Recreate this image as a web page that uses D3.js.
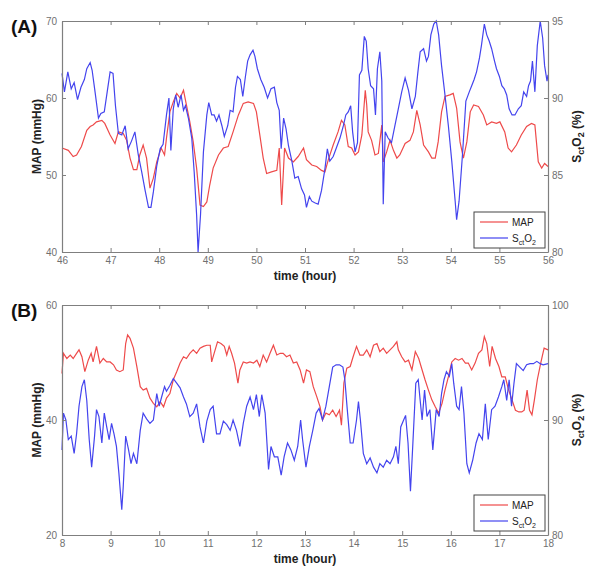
<!DOCTYPE html>
<html><head><meta charset="utf-8">
<script src="https://cdn.jsdelivr.net/npm/d3@7"></script>
<style>body{margin:0;background:#fff}svg{display:block}</style>
</head><body>
<svg id="c" width="602" height="581"></svg>
<script>
// ---------- Panel A data ----------
const mapA_t = [46.0,46.13,46.23,46.3,46.4,46.51,46.58,46.64,46.71,46.82,46.88,46.99,47.09,47.16,47.26,47.33,47.4,47.47,47.54,47.6,47.67,47.74,47.81,47.88,47.95,48.04,48.11,48.15,48.22,48.29,48.36,48.43,48.5,48.56,48.63,48.7,48.77,48.84,48.91,48.98,49.04,49.11,49.22,49.32,49.42,49.52,49.63,49.73,49.83,49.94,50.0,50.07,50.14,50.21,50.31,50.42,50.47,50.52,50.58,50.66,50.76,50.86,50.97,51.03,51.14,51.24,51.34,51.41,51.48,51.58,51.68,51.75,51.82,51.89,51.96,52.03,52.1,52.17,52.24,52.27,52.3,52.37,52.44,52.51,52.58,52.61,52.68,52.75,52.82,52.89,52.95,53.06,53.16,53.23,53.3,53.37,53.44,53.54,53.61,53.68,53.74,53.81,53.88,53.98,54.05,54.12,54.19,54.26,54.33,54.4,54.47,54.57,54.67,54.74,54.84,54.94,55.01,55.11,55.18,55.25,55.35,55.45,55.56,55.66,55.73,55.8,55.87,55.93,56.0];
const mapA_v = [53.5,53.2,52.4,52.6,53.7,55.8,56.3,56.5,56.9,57.1,56.7,55.2,54.1,55.6,55.4,54.5,52.2,50.7,50.7,52.6,53.9,52.2,48.3,49.6,51.7,53.5,52.6,54.8,58.2,59.5,60.6,60.0,61.0,59.1,56.9,54.3,50.9,46.1,45.9,46.5,48.7,50.9,52.6,53.5,53.7,55.6,57.8,59.3,59.5,59.3,58.2,55.2,52.2,50.2,50.4,50.6,53.5,46.1,53.5,52.2,51.7,52.4,53.5,52.0,51.3,51.1,50.6,50.4,52.0,53.9,55.6,57.1,56.5,53.7,53.5,52.6,53.0,55.2,61.0,59.1,55.6,54.5,52.6,52.8,56.5,51.7,53.0,54.5,53.2,52.2,52.6,54.1,54.5,55.6,58.4,56.5,53.9,53.0,52.2,52.2,54.3,58.2,60.2,60.4,60.6,58.7,54.3,52.2,54.3,58.2,59.1,58.9,57.8,56.5,56.9,56.7,56.9,55.6,53.5,53.0,53.9,55.2,56.3,56.7,56.5,51.7,50.9,51.5,51.1];
const sctA_t = [46.0,46.05,46.12,46.19,46.25,46.32,46.39,46.46,46.51,46.58,46.62,46.68,46.75,46.8,46.87,46.93,46.99,47.05,47.1,47.16,47.23,47.3,47.36,47.43,47.5,47.57,47.64,47.71,47.78,47.83,47.88,47.95,48.02,48.08,48.15,48.2,48.24,48.29,48.34,48.39,48.45,48.5,48.54,48.6,48.67,48.72,48.77,48.8,48.85,48.91,48.98,49.02,49.08,49.13,49.18,49.23,49.29,49.34,49.41,49.46,49.52,49.57,49.61,49.67,49.72,49.77,49.82,49.87,49.93,49.97,50.02,50.09,50.16,50.23,50.3,50.37,50.42,50.47,50.51,50.56,50.61,50.66,50.73,50.79,50.86,50.93,50.99,51.03,51.09,51.14,51.2,51.27,51.34,51.41,51.46,51.51,51.58,51.65,51.72,51.79,51.84,51.89,51.94,51.98,52.03,52.08,52.12,52.17,52.22,52.26,52.3,52.35,52.41,52.45,52.49,52.54,52.58,52.61,52.65,52.71,52.78,52.85,52.92,52.99,53.06,53.13,53.2,53.27,53.32,53.37,53.44,53.5,53.54,53.59,53.65,53.7,53.75,53.81,53.88,53.95,54.02,54.09,54.12,54.17,54.24,54.31,54.38,54.43,54.48,54.53,54.59,54.63,54.69,54.74,54.79,54.84,54.9,54.94,55.0,55.05,55.1,55.15,55.2,55.26,55.32,55.39,55.45,55.5,55.56,55.6,55.64,55.68,55.73,55.78,55.84,55.89,55.93,55.98,56.0];
const sctA_v = [91.6,90.4,91.7,90.6,91.0,89.9,90.7,91.2,91.9,92.3,91.8,90.4,88.7,89.0,89.1,90.4,91.7,91.6,89.5,87.7,87.6,88.2,86.7,87.2,87.8,86.3,85.2,84.0,82.9,82.9,83.9,85.6,86.7,87.0,88.9,90.0,86.6,89.3,90.2,89.4,90.2,89.2,89.5,88.7,87.4,85.2,82.4,80.0,82.4,86.5,88.9,89.7,88.9,88.9,88.5,88.9,88.2,87.5,88.2,89.2,89.1,90.7,91.4,91.2,90.1,91.3,92.4,92.8,93.1,92.7,91.9,91.2,90.7,90.0,90.6,90.7,89.7,89.2,86.7,88.7,88.0,86.9,85.9,84.8,84.9,84.1,83.7,82.9,83.6,83.3,83.2,83.1,84.0,85.4,86.7,85.9,86.2,86.8,87.4,88.2,88.9,89.1,89.5,87.8,86.5,87.1,91.5,91.8,94.0,93.7,91.9,90.8,90.6,88.9,91.9,93.0,91.1,83.1,87.8,87.4,87.1,88.2,89.3,90.4,91.3,90.5,89.3,90.1,91.6,93.0,93.2,92.4,92.7,94.1,94.8,95.0,94.1,92.1,90.2,88.2,85.9,83.3,82.1,83.3,86.3,89.8,90.4,90.8,91.2,91.7,92.6,93.4,94.8,94.1,93.7,93.2,92.4,91.9,91.4,90.8,90.6,90.2,89.3,88.9,88.9,89.3,89.5,90.4,90.1,90.8,91.1,92.4,90.4,93.4,95.0,93.9,92.1,91.1,91.5];

// ---------- Panel B data ----------
const mapB_t = [8.0,8.03,8.1,8.17,8.23,8.3,8.35,8.41,8.47,8.54,8.6,8.64,8.71,8.78,8.85,8.92,8.99,9.06,9.12,9.19,9.26,9.31,9.35,9.4,9.47,9.54,9.61,9.67,9.74,9.81,9.88,9.95,10.02,10.09,10.15,10.22,10.29,10.36,10.43,10.5,10.56,10.63,10.7,10.77,10.84,10.91,10.98,11.05,11.08,11.13,11.2,11.27,11.34,11.39,11.44,11.49,11.55,11.62,11.66,11.73,11.8,11.87,11.94,12.01,12.07,12.14,12.21,12.28,12.35,12.42,12.49,12.55,12.62,12.69,12.76,12.83,12.9,12.97,13.03,13.1,13.17,13.24,13.31,13.36,13.43,13.5,13.57,13.64,13.71,13.75,13.8,13.86,13.93,13.99,14.06,14.13,14.2,14.27,14.34,14.41,14.48,14.54,14.61,14.68,14.75,14.82,14.89,14.92,14.99,15.06,15.13,15.2,15.27,15.34,15.41,15.47,15.54,15.61,15.68,15.75,15.82,15.88,15.95,16.02,16.09,16.16,16.23,16.3,16.36,16.43,16.5,16.57,16.64,16.69,16.74,16.8,16.85,16.92,16.99,17.05,17.12,17.19,17.26,17.33,17.4,17.46,17.51,17.57,17.62,17.67,17.72,17.78,17.85,17.92,18.0];
const mapB_v = [48.1,51.6,50.7,51.3,50.7,51.6,52.2,51.0,48.4,50.4,51.6,50.1,52.8,49.9,50.7,50.1,50.1,49.6,48.7,48.4,48.7,53.3,54.8,54.2,52.5,49.3,45.8,45.2,45.5,43.8,42.9,42.3,43.2,42.3,43.8,44.6,47.0,48.4,49.9,51.0,50.7,51.6,52.2,51.6,52.5,52.8,53.0,53.0,50.1,51.6,53.6,53.3,52.8,51.3,52.8,51.6,49.9,46.4,48.7,50.1,49.9,50.1,49.9,50.4,49.3,51.3,50.1,51.6,53.0,51.3,51.6,51.6,51.0,51.3,49.9,50.1,48.7,46.4,48.7,48.4,45.8,44.1,42.3,40.0,41.2,40.9,41.7,40.6,41.7,39.1,46.4,49.0,49.3,51.0,52.8,51.3,51.3,52.2,51.0,53.0,53.3,51.9,52.5,51.6,52.2,52.8,53.6,52.2,51.0,50.1,50.4,48.7,51.9,50.7,48.7,47.0,45.2,43.5,42.3,41.2,42.9,45.2,47.5,50.1,50.7,50.4,50.7,49.9,49.9,48.7,49.9,51.6,52.2,54.5,53.3,49.3,52.8,50.7,49.3,47.5,47.5,45.2,43.5,41.7,41.4,41.4,41.7,45.2,41.7,40.9,43.5,47.0,49.9,52.5,52.2];
const sctB_t = [8.0,8.03,8.08,8.13,8.19,8.25,8.3,8.35,8.41,8.46,8.51,8.56,8.61,8.67,8.71,8.76,8.82,8.87,8.92,8.97,9.02,9.07,9.12,9.17,9.23,9.26,9.31,9.37,9.42,9.47,9.54,9.61,9.67,9.74,9.81,9.88,9.95,10.0,10.05,10.11,10.15,10.22,10.29,10.36,10.43,10.5,10.56,10.63,10.7,10.77,10.84,10.91,10.98,11.05,11.11,11.18,11.25,11.32,11.39,11.46,11.52,11.59,11.66,11.73,11.8,11.87,11.94,12.0,12.06,12.11,12.18,12.25,12.3,12.37,12.44,12.51,12.57,12.64,12.71,12.78,12.85,12.91,12.95,13.02,13.09,13.16,13.23,13.29,13.36,13.43,13.5,13.57,13.64,13.71,13.78,13.82,13.87,13.93,13.99,14.06,14.1,14.14,14.2,14.27,14.34,14.41,14.48,14.54,14.61,14.68,14.75,14.82,14.87,14.92,14.97,15.03,15.07,15.12,15.17,15.22,15.28,15.33,15.37,15.41,15.46,15.51,15.57,15.63,15.7,15.76,15.81,15.86,15.91,15.97,16.02,16.06,16.12,16.17,16.22,16.27,16.33,16.38,16.45,16.52,16.58,16.65,16.71,16.77,16.84,16.91,16.98,17.05,17.09,17.15,17.2,17.25,17.3,17.35,17.42,17.49,17.56,17.63,17.7,17.77,17.84,17.9,18.0];
const sctB_v = [87.4,90.6,90.0,88.3,88.6,87.1,88.8,91.2,92.9,93.5,91.7,88.3,85.9,88.6,90.9,90.3,88.0,90.6,89.4,88.3,89.7,88.8,87.7,85.4,82.2,84.2,88.6,87.4,86.2,87.1,86.2,89.1,90.6,90.1,89.7,90.0,92.3,91.2,92.0,92.9,92.5,93.0,93.6,93.2,92.8,92.0,91.4,90.3,90.6,91.4,89.4,88.0,89.9,90.9,91.2,88.8,88.8,89.9,89.6,89.1,90.0,89.1,87.7,89.7,91.2,92.0,90.9,92.2,90.3,92.2,90.6,85.7,87.7,86.8,86.8,85.2,86.8,88.0,87.4,86.5,87.7,90.0,88.3,85.9,87.7,89.1,90.6,91.0,90.0,91.2,92.9,94.6,94.8,94.8,94.6,93.5,90.9,88.0,88.0,90.0,91.6,90.0,87.1,86.2,86.7,85.9,85.4,86.2,85.9,86.5,86.2,86.8,87.7,86.2,89.4,90.0,90.4,88.0,83.8,88.0,93.2,93.5,91.7,90.0,92.6,90.3,90.9,87.4,90.9,90.3,92.3,93.5,94.2,93.8,94.9,93.2,91.2,90.9,92.9,90.6,86.2,85.4,86.5,88.0,88.8,88.3,91.4,88.3,90.9,91.2,92.0,92.9,93.5,91.7,93.5,91.2,93.2,94.9,94.6,94.3,94.8,94.9,94.9,95.1,94.9,94.8,94.9];

// ---------- tick labels ----------
const xTicksA = [46,47,48,49,50,51,52,53,54,55,56];
const yLeftTicksA = [40,50,60,70];
const yRightTicksA = [80,85,90,95];
const xTicksB = [8,9,10,11,12,13,14,15,16,17,18];
const yLeftTicksB = [20,40,60];
const yRightTicksB = [80,90,100];

const RED = "#ee4a4a", BLUE = "#4444ee", BOX = "#7f7f7f", TXT = "#707070";
const svg = d3.select("#c");

function panel(cfg) {
  const {top, bottom, left, right, xDom, yL, yR, xt, ylt, yrt, tag, mapT, mapV, sctT, sctV, legTop} = cfg;
  const x = d3.scaleLinear().domain(xDom).range([left, right]);
  const yl = d3.scaleLinear().domain(yL).range([bottom, top]);
  const yr = d3.scaleLinear().domain(yR).range([bottom, top]);
  const g = svg.append("g");

  const mapData = mapT.map((t,i)=>[t,mapV[i]]);
  const sctData = sctT.map((t,i)=>[t,sctV[i]]);
  g.append("path").datum(mapData).attr("fill","none").attr("stroke",RED).attr("stroke-width",1.2)
    .attr("d", d3.line().x(d=>x(d[0])).y(d=>yl(d[1])));
  g.append("path").datum(sctData).attr("fill","none").attr("stroke",BLUE).attr("stroke-width",1.2)
    .attr("d", d3.line().x(d=>x(d[0])).y(d=>yr(d[1])));

  const styleAx = sel => { sel.select(".domain").attr("stroke", BOX).attr("stroke-width",1.2);
    sel.selectAll(".tick line").attr("stroke", BOX);
    sel.selectAll(".tick text").attr("fill", TXT).style("font-family","Arial, 'Liberation Sans', sans-serif").style("font-size","10px"); };
  g.append("g").attr("transform",`translate(0,${bottom})`)
    .call(d3.axisBottom(x).tickValues(xt).tickSizeInner(-4).tickSizeOuter(0).tickPadding(5).tickFormat(d3.format("d"))).call(styleAx);
  g.append("g").attr("transform",`translate(0,${top})`)
    .call(d3.axisTop(x).tickValues(xt).tickSizeInner(-4).tickSizeOuter(0).tickFormat("")).call(styleAx);
  g.append("g").attr("transform",`translate(${left},0)`)
    .call(d3.axisLeft(yl).tickValues(ylt).tickSizeInner(-4).tickSizeOuter(0).tickPadding(5).tickFormat(d3.format("d"))).call(styleAx);
  g.append("g").attr("transform",`translate(${right},0)`)
    .call(d3.axisRight(yr).tickValues(yrt).tickSizeInner(-4).tickSizeOuter(0).tickPadding(4).tickFormat(d3.format("d"))).call(styleAx);

  g.append("text").attr("x",11).attr("y",top+12).text(tag)
    .style("font-family","Arial, 'Liberation Sans', sans-serif").style("font-size","19px").style("font-weight","bold").attr("fill","#111");

  const lblFont = sel => sel.style("font-family","Arial, 'Liberation Sans', sans-serif").style("font-size","12px").style("font-weight","bold").attr("fill","#222");
  const cy = (top+bottom)/2;
  g.append("text").attr("transform",`translate(41,${cy}) rotate(-90)`).attr("text-anchor","middle").text("MAP (mmHg)").call(lblFont);
  const rl = g.append("text").attr("transform",`translate(${right+33},${cy}) rotate(-90)`).attr("text-anchor","middle").call(lblFont);
  rl.append("tspan").text("S");
  rl.append("tspan").attr("dy",3).style("font-size","9px").text("ct");
  rl.append("tspan").attr("dy",-3).text("O");
  rl.append("tspan").attr("dy",3).style("font-size","9px").text("2");
  rl.append("tspan").attr("dy",-3).text(" (%)");
  g.append("text").attr("x",(left+right)/2).attr("y",bottom+28).attr("text-anchor","middle").text("time (hour)").call(lblFont);

  const lx = 474, lw = 71, lh = 36;
  const lg = g.append("g");
  lg.append("rect").attr("x",lx).attr("y",legTop).attr("width",lw).attr("height",lh).attr("fill","#fff").attr("stroke","#444").attr("stroke-width",1);
  const items = [{n:"MAP",c:RED},{n:"S",c:BLUE}];
  items.forEach((it,i)=>{
    const yy = legTop + 10 + i*16;
    lg.append("line").attr("x1",lx+6).attr("x2",lx+34).attr("y1",yy).attr("y2",yy).attr("stroke",it.c).attr("stroke-width",1.2);
    const t = lg.append("text").attr("x",lx+38).attr("y",yy+4)
      .style("font-family","Arial, 'Liberation Sans', sans-serif").style("font-size","10px").attr("fill","#222");
    if (i===0) t.text(it.n);
    else {
      t.append("tspan").text("S");
      t.append("tspan").attr("dy",3).style("font-size","7px").text("ct");
      t.append("tspan").attr("dy",-3).text("O");
      t.append("tspan").attr("dy",3).style("font-size","7px").text("2");
    }
  });
}

panel({top:21,bottom:252,left:62,right:548,xDom:[46,56],yL:[40,70],yR:[80,95],
  xt:xTicksA,ylt:yLeftTicksA,yrt:yRightTicksA,tag:"(A)",
  mapT:mapA_t,mapV:mapA_v,sctT:sctA_t,sctV:sctA_v,legTop:212});
panel({top:305,bottom:535,left:62,right:548,xDom:[8,18],yL:[20,60],yR:[80,100],
  xt:xTicksB,ylt:yLeftTicksB,yrt:yRightTicksB,tag:"(B)",
  mapT:mapB_t,mapV:mapB_v,sctT:sctB_t,sctV:sctB_v,legTop:495});
</script>
</body></html>
